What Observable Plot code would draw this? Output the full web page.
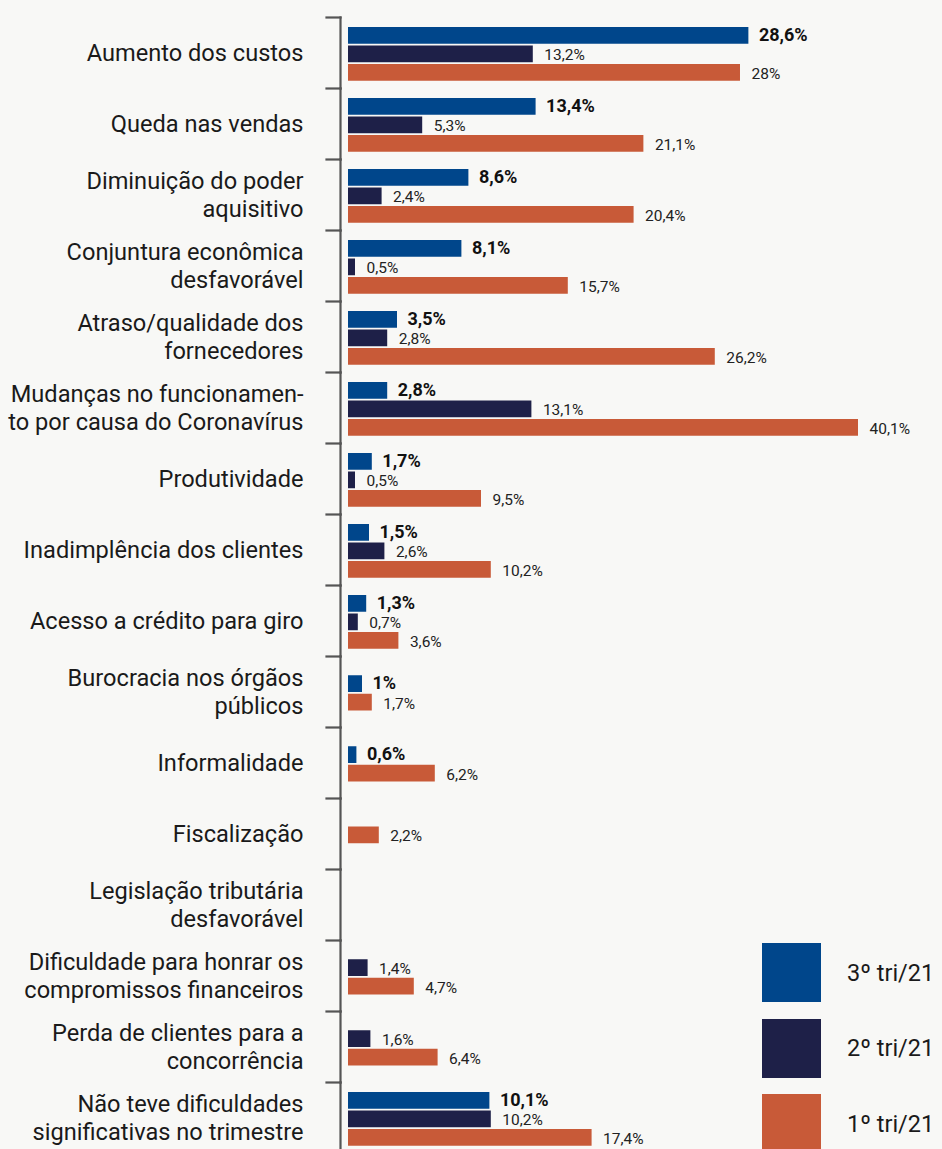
<!DOCTYPE html>
<html><head><meta charset="utf-8">
<script src="https://cdn.jsdelivr.net/npm/d3@7"></script>
<script src="https://cdn.jsdelivr.net/npm/@observablehq/plot@0.6"></script>
<style>
html,body{margin:0;padding:0;background:#f8f8f6;font-family:Roboto,sans-serif;}
#wrap{position:relative;width:942px;height:1149px;overflow:hidden;}
#legend{position:absolute;left:762px;top:943px;}
.item{display:flex;align-items:center;height:59px;margin-bottom:16.5px;}
.sw{width:59px;height:59px;margin-right:26px;}
.lab{font-size:23.5px;color:#1a1a1a;}
</style></head><body><div id="wrap"></div>
<script>
const categories = [
  "Aumento dos custos",
  "Queda nas vendas",
  "Diminuição do poder\naquisitivo",
  "Conjuntura econômica\ndesfavorável",
  "Atraso/qualidade dos\nfornecedores",
  "Mudanças no funcionamen-\nto por causa do Coronavírus",
  "Produtividade",
  "Inadimplência dos clientes",
  "Acesso a crédito para giro",
  "Burocracia nos órgãos\npúblicos",
  "Informalidade",
  "Fiscalização",
  "Legislação tributária\ndesfavorável",
  "Dificuldade para honrar os\ncompromissos financeiros",
  "Perda de clientes para a\nconcorrência",
  "Não teve dificuldades\nsignificativas no trimestre"
];
const series = ["3º tri/21", "2º tri/21", "1º tri/21"];
const colors = ["#00468b", "#1e2048", "#c85a38"];
const q3 = [28.6, 13.4, 8.6, 8.1, 3.5, 2.8, 1.7, 1.5, 1.3, 1, 0.6, null, null, null, null, 10.1];
const q2 = [13.2, 5.3, 2.4, 0.5, 2.8, 13.1, 0.5, 2.6, 0.7, null, null, null, null, 1.4, 1.6, 10.2];
const q1 = [28, 21.1, 20.4, 15.7, 26.2, 40.1, 9.5, 10.2, 3.6, 1.7, 6.2, 2.2, null, 4.7, 6.4, 17.4];
const xCap = 36.43; // the chart visually caps the longest bar

const barFrac = 0.905;
const rows = [];
categories.forEach((c, i) => {
  const vals = [q3[i], q2[i], q1[i]];
  const present = series.map((s, j) => ({s, v: vals[j]})).filter(d => d.v != null);
  const off = (series.length - present.length) / 2;
  present.forEach((d, k) => rows.push({cat: c, series: d.s, value: d.v, slot: k + off}));
});
const fmt = v => String(v).replace(".", ",") + "%";
const catRows = categories.map(c => ({cat: c}));

const W = 942, H = 1149, band = 71, top0 = 17;
const chart = Plot.plot({
  width: W, height: H,
  marginTop: 0, marginBottom: 0, marginLeft: 326, marginRight: 0,
  style: {background: "#f8f8f6", fontFamily: "Roboto, sans-serif", overflow: "visible"},
  fy: {domain: categories, range: [top0, top0 + band * categories.length], padding: 0, axis: null},
  y: {domain: [0, 3], range: [10, 65.5], axis: null},
  x: {domain: [0, xCap], range: [348, 858], clamp: true, axis: null},
  color: {domain: series, range: colors},
  marks: [
    Plot.frame({anchor: "top", stroke: "#555", strokeWidth: 2.2, insetRight: W - 340}),
    Plot.frame({anchor: "left", stroke: "#555", strokeWidth: 2.2, insetLeft: 14}),
    Plot.rect(rows, {fy: "cat", x1: 0, x2: "value", y1: "slot", y2: d => d.slot + barFrac, fill: "series"}),
    Plot.text(rows.filter(d => d.series === series[0]), {
      fy: "cat", x: "value", y: d => d.slot + barFrac / 2, text: d => fmt(d.value),
      dx: 10, dy: -1, textAnchor: "start", fontWeight: "bold", fontSize: 18, fill: "#111"
    }),
    Plot.text(rows.filter(d => d.series !== series[0]), {
      fy: "cat", x: "value", y: d => d.slot + barFrac / 2, text: d => fmt(d.value),
      dx: 11, dy: 1, textAnchor: "start", fontSize: 15.5, fill: "#222"
    }),
    Plot.text(catRows, {
      fy: "cat", text: "cat", frameAnchor: "left", dx: -23, dy: -1, textAnchor: "end",
      fontSize: 23.6, lineHeight: 1.2, fill: "#1a1a1a"
    })
  ]
});
const wrap = document.getElementById("wrap");
wrap.appendChild(chart);
const legend = document.createElement("div");
legend.id = "legend";
series.forEach((s, i) => {
  const it = document.createElement("div");
  it.className = "item";
  const sw = document.createElement("div");
  sw.className = "sw"; sw.style.background = colors[i];
  const lab = document.createElement("span");
  lab.className = "lab"; lab.textContent = s;
  it.appendChild(sw); it.appendChild(lab);
  legend.appendChild(it);
});
wrap.appendChild(legend);
</script>
</body></html>
